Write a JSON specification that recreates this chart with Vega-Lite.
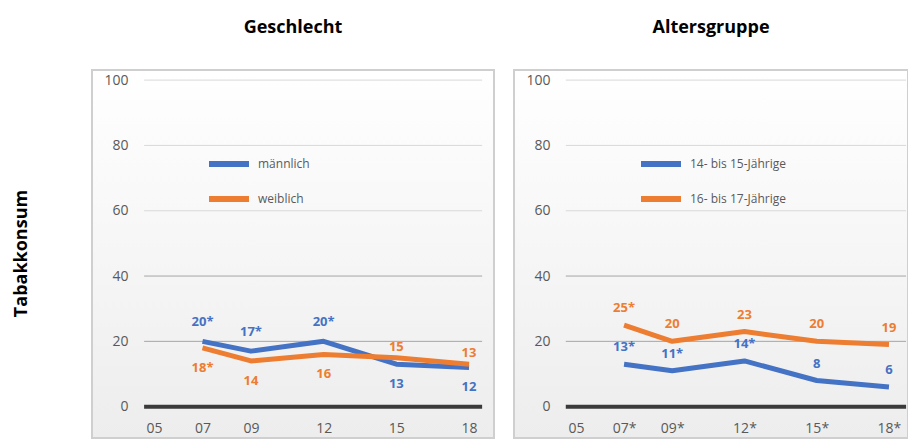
{
  "$schema": "https://vega.github.io/schema/vega-lite/v6.json",
  "description": "Tabakkonsum nach Geschlecht und Altersgruppe",
  "padding": {"left": 12, "top": 18, "right": 0, "bottom": 0},
  "title": {
    "text": "Tabakkonsum",
    "orient": "left",
    "anchor": "middle",
    "font": "Open Sans",
    "fontSize": 18,
    "fontWeight": "bold",
    "color": "#000000",
    "offset": 60,
    "dx": -25
  },
  "datasets": {
    "grid": [
      {"value": 0}, {"value": 20}, {"value": 40}, {"value": 60}, {"value": 80}, {"value": 100}
    ],
    "tabak": [
      {"panel": "Geschlecht", "series": "männlich", "year": 2007, "value": 20, "label": "20*"},
      {"panel": "Geschlecht", "series": "männlich", "year": 2009, "value": 17, "label": "17*"},
      {"panel": "Geschlecht", "series": "männlich", "year": 2012, "value": 20, "label": "20*"},
      {"panel": "Geschlecht", "series": "männlich", "year": 2015, "value": 13, "label": "13"},
      {"panel": "Geschlecht", "series": "männlich", "year": 2018, "value": 12, "label": "12"},
      {"panel": "Geschlecht", "series": "weiblich", "year": 2007, "value": 18, "label": "18*"},
      {"panel": "Geschlecht", "series": "weiblich", "year": 2009, "value": 14, "label": "14"},
      {"panel": "Geschlecht", "series": "weiblich", "year": 2012, "value": 16, "label": "16"},
      {"panel": "Geschlecht", "series": "weiblich", "year": 2015, "value": 15, "label": "15"},
      {"panel": "Geschlecht", "series": "weiblich", "year": 2018, "value": 13, "label": "13"},
      {"panel": "Altersgruppe", "series": "14- bis 15-Jährige", "year": 2007, "value": 13, "label": "13*"},
      {"panel": "Altersgruppe", "series": "14- bis 15-Jährige", "year": 2009, "value": 11, "label": "11*"},
      {"panel": "Altersgruppe", "series": "14- bis 15-Jährige", "year": 2012, "value": 14, "label": "14*"},
      {"panel": "Altersgruppe", "series": "14- bis 15-Jährige", "year": 2015, "value": 8, "label": "8"},
      {"panel": "Altersgruppe", "series": "14- bis 15-Jährige", "year": 2018, "value": 6, "label": "6"},
      {"panel": "Altersgruppe", "series": "16- bis 17-Jährige", "year": 2007, "value": 25, "label": "25*"},
      {"panel": "Altersgruppe", "series": "16- bis 17-Jährige", "year": 2009, "value": 20, "label": "20"},
      {"panel": "Altersgruppe", "series": "16- bis 17-Jährige", "year": 2012, "value": 23, "label": "23"},
      {"panel": "Altersgruppe", "series": "16- bis 17-Jährige", "year": 2015, "value": 20, "label": "20"},
      {"panel": "Altersgruppe", "series": "16- bis 17-Jährige", "year": 2018, "value": 19, "label": "19"}
    ]
  },
  "spacing": 18,
  "resolve": {"scale": {"color": "independent"}, "legend": {"color": "independent"}},
  "hconcat": [
    {
      "width": 402,
      "height": 368,
      "title": {"text": "Geschlecht"},
      "encoding": {
        "y": {
          "field": "value",
          "type": "quantitative",
          "scale": {"domain": [-9.6, 103.1], "nice": false},
          "axis": {"values": [0, 20, 40, 60, 80, 100], "offset": -36}
        }
      },
      "layer": [
        {
          "data": {"name": "grid"},
          "transform": [{"filter": "datum.value > 0"}],
          "mark": {"type": "rule", "strokeWidth": 1},
          "encoding": {
            "x": {
              "datum": 2004.59,
              "type": "quantitative",
              "scale": {"domain": [2002.44, 2019.03], "nice": false, "zero": false},
              "axis": {"values": [2005, 2007, 2009, 2012, 2015, 2018], "format": "d", "labelExpr": "slice(datum.label, 2)", "offset": -17}
            },
            "x2": {"datum": 2018.54},
            "stroke": {"condition": {"test": "datum.value < 50", "value": "#a6a6a6"}, "value": "#d9d9d9"}
          }
        },
        {
          "data": {"name": "grid"},
          "transform": [{"filter": "datum.value == 0"}],
          "mark": {"type": "rule", "strokeWidth": 4, "color": "#3a3a3a"},
          "encoding": {
            "x": {
              "datum": 2004.59,
              "type": "quantitative",
              "axis": {"values": [2005, 2007, 2009, 2012, 2015, 2018], "format": "d", "labelExpr": "slice(datum.label, 2)", "offset": -17}
            },
            "x2": {"datum": 2018.54}
          }
        },
        {
          "data": {"name": "tabak"},
          "transform": [{"filter": "datum.panel == 'Geschlecht'"}],
          "mark": {"type": "line", "strokeWidth": 5, "strokeJoin": "round"},
          "encoding": {
            "x": {
              "field": "year",
              "type": "quantitative",
              "axis": {"values": [2005, 2007, 2009, 2012, 2015, 2018], "format": "d", "labelExpr": "slice(datum.label, 2)", "offset": -17}
            },
            "color": {
              "field": "series",
              "type": "nominal",
              "scale": {"domain": ["männlich", "weiblich"], "range": ["#4472C4", "#ED7D31"]},
              "legend": {"orient": "none", "legendX": 114, "legendY": 71}
            }
          }
        },
        {
          "data": {"name": "tabak"},
          "transform": [
            {"filter": "datum.panel == 'Geschlecht'"},
            {"filter": "datum.series == 'männlich' && datum.year < 2015"}
          ],
          "mark": {"type": "text", "dy": -19, "fontWeight": "bold", "fontSize": 13, "font": "Open Sans"},
          "encoding": {
            "x": {
              "field": "year",
              "type": "quantitative",
              "axis": {"values": [2005, 2007, 2009, 2012, 2015, 2018], "format": "d", "labelExpr": "slice(datum.label, 2)", "offset": -17}
            },
            "text": {"field": "label"},
            "color": {"field": "series", "type": "nominal", "legend": null}
          }
        },
        {
          "data": {"name": "tabak"},
          "transform": [
            {"filter": "datum.panel == 'Geschlecht'"},
            {"filter": "datum.series == 'weiblich' && datum.year >= 2015"}
          ],
          "mark": {"type": "text", "dy": -11, "fontWeight": "bold", "fontSize": 13, "font": "Open Sans"},
          "encoding": {
            "x": {
              "field": "year",
              "type": "quantitative",
              "axis": {"values": [2005, 2007, 2009, 2012, 2015, 2018], "format": "d", "labelExpr": "slice(datum.label, 2)", "offset": -17}
            },
            "text": {"field": "label"},
            "color": {"field": "series", "type": "nominal", "legend": null}
          }
        },
        {
          "data": {"name": "tabak"},
          "transform": [
            {"filter": "datum.panel == 'Geschlecht'"},
            {"filter": "(datum.series == 'männlich') != (datum.year < 2015)"}
          ],
          "mark": {"type": "text", "dy": 20, "fontWeight": "bold", "fontSize": 13, "font": "Open Sans"},
          "encoding": {
            "x": {
              "field": "year",
              "type": "quantitative",
              "axis": {"values": [2005, 2007, 2009, 2012, 2015, 2018], "format": "d", "labelExpr": "slice(datum.label, 2)", "offset": -17}
            },
            "text": {"field": "label"},
            "color": {"field": "series", "type": "nominal", "legend": null}
          }
        }
      ]
    },
    {
      "width": 394,
      "height": 368,
      "title": {"text": "Altersgruppe"},
      "encoding": {
        "y": {
          "field": "value",
          "type": "quantitative",
          "scale": {"domain": [-9.6, 103.1], "nice": false},
          "axis": {"values": [0, 20, 40, 60, 80, 100], "offset": -36}
        }
      },
      "layer": [
        {
          "data": {"name": "grid"},
          "transform": [{"filter": "datum.value > 0"}],
          "mark": {"type": "rule", "strokeWidth": 1},
          "encoding": {
            "x": {
              "datum": 2004.58,
              "type": "quantitative",
              "scale": {"domain": [2002.43, 2018.79], "nice": false, "zero": false},
              "axis": {"values": [2005, 2007, 2009, 2012, 2015, 2018], "format": "d", "labelExpr": "slice(datum.label, 2) + (datum.value > 2005 ? '*' : '')", "offset": -17}
            },
            "x2": {"datum": 2018.71},
            "stroke": {"condition": {"test": "datum.value < 50", "value": "#a6a6a6"}, "value": "#d9d9d9"}
          }
        },
        {
          "data": {"name": "grid"},
          "transform": [{"filter": "datum.value == 0"}],
          "mark": {"type": "rule", "strokeWidth": 4, "color": "#3a3a3a"},
          "encoding": {
            "x": {
              "datum": 2004.58,
              "type": "quantitative",
              "axis": {"values": [2005, 2007, 2009, 2012, 2015, 2018], "format": "d", "labelExpr": "slice(datum.label, 2) + (datum.value > 2005 ? '*' : '')", "offset": -17}
            },
            "x2": {"datum": 2018.71}
          }
        },
        {
          "data": {"name": "tabak"},
          "transform": [{"filter": "datum.panel == 'Altersgruppe'"}],
          "mark": {"type": "line", "strokeWidth": 5, "strokeJoin": "round"},
          "encoding": {
            "x": {
              "field": "year",
              "type": "quantitative",
              "axis": {"values": [2005, 2007, 2009, 2012, 2015, 2018], "format": "d", "labelExpr": "slice(datum.label, 2) + (datum.value > 2005 ? '*' : '')", "offset": -17}
            },
            "color": {
              "field": "series",
              "type": "nominal",
              "scale": {"domain": ["14- bis 15-Jährige", "16- bis 17-Jährige"], "range": ["#4472C4", "#ED7D31"]},
              "legend": {"orient": "none", "legendX": 124, "legendY": 71}
            }
          }
        },
        {
          "data": {"name": "tabak"},
          "transform": [{"filter": "datum.panel == 'Altersgruppe'"}],
          "mark": {"type": "text", "dy": -17, "fontWeight": "bold", "fontSize": 13, "font": "Open Sans"},
          "encoding": {
            "x": {
              "field": "year",
              "type": "quantitative",
              "axis": {"values": [2005, 2007, 2009, 2012, 2015, 2018], "format": "d", "labelExpr": "slice(datum.label, 2) + (datum.value > 2005 ? '*' : '')", "offset": -17}
            },
            "text": {"field": "label"},
            "color": {"field": "series", "type": "nominal", "legend": null}
          }
        }
      ]
    }
  ],
  "config": {
    "font": "Open Sans",
    "view": {
      "stroke": "#cfcfcf",
      "strokeWidth": 2,
      "fill": {
        "gradient": "linear",
        "x1": 0, "y1": 0, "x2": 0, "y2": 1,
        "stops": [{"offset": 0, "color": "#ffffff"}, {"offset": 1, "color": "#ededed"}]
      }
    },
    "title": {"fontSize": 18, "fontWeight": "bold", "color": "#000000", "anchor": "middle", "offset": 33},
    "axis": {
      "grid": false,
      "domain": false,
      "ticks": false,
      "tickSize": 0,
      "labelPadding": 0,
      "labelFlush": false,
      "labelFont": "Open Sans",
      "labelFontSize": 14,
      "labelColor": "#595959",
      "title": null
    },
    "legend": {
      "title": null,
      "symbolType": "stroke",
      "symbolSize": 1600,
      "symbolStrokeWidth": 6,
      "rowPadding": -8,
      "labelOffset": 6,
      "labelFont": "Open Sans",
      "labelFontSize": 12,
      "labelColor": "#595959"
    }
  }
}
